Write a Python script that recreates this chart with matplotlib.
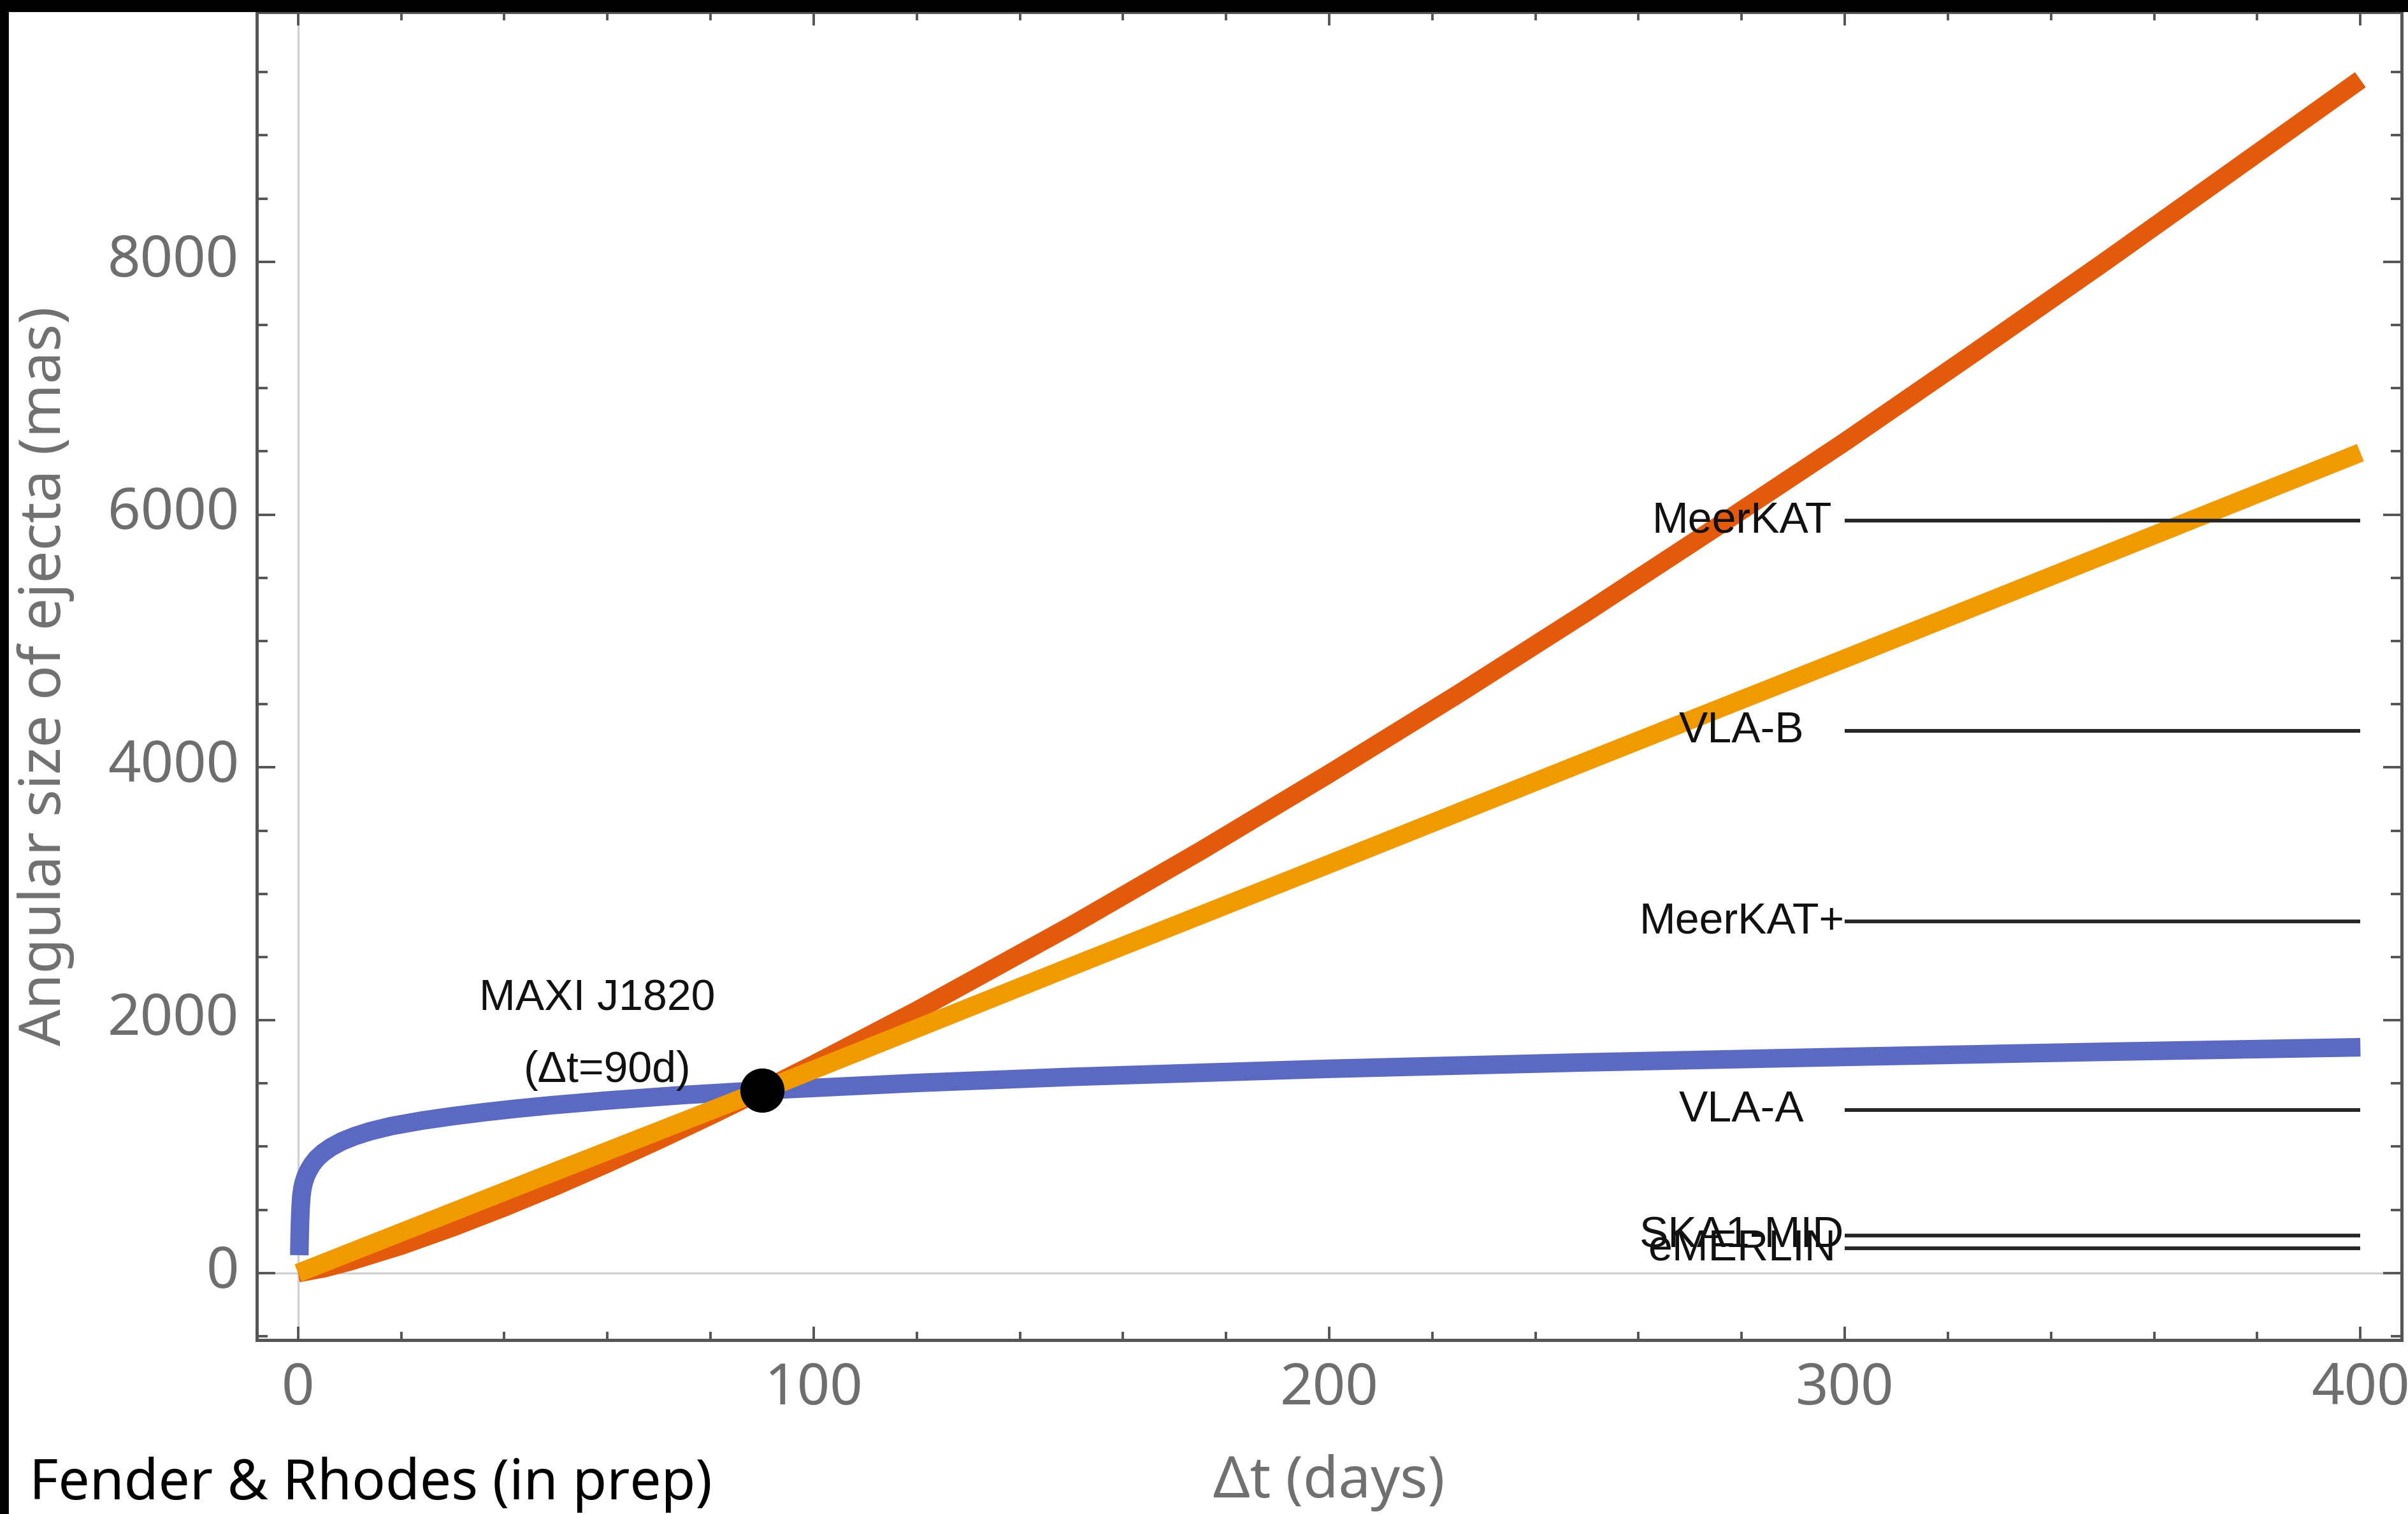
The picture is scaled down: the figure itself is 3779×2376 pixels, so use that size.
import matplotlib
matplotlib.use("Agg")
import matplotlib.pyplot as plt
from matplotlib.patches import Rectangle
from matplotlib.ticker import MultipleLocator
from matplotlib.transforms import ScaledTranslation

# Angular size of the ejecta (mas) against time since ejection (days)
blue_days = [0.25, 0.3, 0.4, 0.5, 0.65, 0.85, 1.1, 1.5, 2.0, 2.7, 3.6, 4.8,
             6.4, 8.5, 11, 14, 18, 24, 30, 36, 42, 49, 60, 75, 90, 120, 150,
             200, 250, 300, 350, 400]
blue_mas = [141, 270, 420, 520, 610, 670, 715, 765, 810, 858, 905, 950,
            996, 1042, 1083, 1122, 1162, 1206, 1241, 1272, 1299, 1327, 1365,
            1409, 1445, 1504, 1552, 1616, 1667, 1710, 1750, 1786]

red_days = [0, 5, 10, 20, 30, 40, 50, 60, 70, 80, 90, 100, 120, 150, 175, 200,
            225, 250, 275, 300, 325, 350, 375, 400]
red_mas = [0, 38, 91, 217, 362, 520, 688, 867, 1053, 1246, 1445, 1650, 2076,
           2749, 3338, 3950, 4580, 5230, 5898, 6575, 7277, 7988, 8713, 9440]

orange_days = [0, 50, 90, 150, 200, 250, 300, 350, 400]
orange_mas = [0, 805, 1445, 2425, 3235, 4050, 4860, 5675, 6490]

# Interferometer resolution limits
instruments = ["MeerKAT", "VLA-B", "MeerKAT+", "VLA-A", "SKA1-MID", "eMERLIN"]
resolution_mas = [5950, 4290, 2780, 1290, 295, 195]
limit_start, limit_end = 300, 400
label_day = 280

# MAXI J1820 observation
maxi_day = 90
maxi_mas = 1445

x_ticks = [0, 100, 200, 300, 400]
y_ticks = [0, 2000, 4000, 6000, 8000]

W, H = 3779, 2376
DPI = 200
fig = plt.figure(figsize=(W / DPI, H / DPI), dpi=DPI)
fig.patch.set_facecolor("white")

ax_l, ax_r, ax_t, ax_b = 403, 3769, 19, 2103
ax = fig.add_axes([ax_l / W, 1 - ax_b / H, (ax_r - ax_l) / W, (ax_b - ax_t) / H])

# black border strips along the top and left edges
fig.add_artist(Rectangle((0, 1 - 17 / H), 1, 17 / H, transform=fig.transFigure,
                         color="black", zorder=10))
fig.add_artist(Rectangle((0, 0), 12 / W, 1, transform=fig.transFigure,
                         color="black", zorder=10))

ax.set_xlim(-8, 408)
ax.set_ylim(-530, 9975)

ax.axhline(0, color="#cfcfcf", lw=1.1, zorder=0.5)
ax.axvline(0, color="#cfcfcf", lw=1.1, zorder=0.5)

lw = 10.5
ax.plot(blue_days, blue_mas, color="#5B69C2", lw=lw, solid_capstyle="butt",
        solid_joinstyle="round", zorder=2)
ax.plot(red_days, red_mas, color="#E35A0C", lw=lw, solid_capstyle="butt",
        solid_joinstyle="round", zorder=2.1)
ax.plot(orange_days, orange_mas, color="#F09A00", lw=lw, solid_capstyle="butt",
        solid_joinstyle="round", zorder=2.2)

label_font = ["Liberation Sans", "DejaVu Sans"]
label_size = 24.5
for name, res in zip(instruments, resolution_mas):
    ax.plot([limit_start, limit_end], [res, res], color="#262626", lw=2.1,
            solid_capstyle="butt", zorder=3)
    ax.text(label_day, res, name, ha="center", va="center", fontsize=label_size,
            family=label_font, color="#111111", zorder=6)

ax.plot([maxi_day], [maxi_mas], "o", color="black", markersize=24, zorder=5)
ax.text(58, 2170, "MAXI J1820", ha="center", va="center", fontsize=label_size,
        family=label_font, color="#111111", zorder=6)
ax.text(60, 1600, "(Δt=90d)", ha="center", va="center", fontsize=label_size,
        family=label_font, color="#111111", zorder=6)

# frame and ticks
frame_col = "#555555"
for sp in ax.spines.values():
    sp.set_color(frame_col)
    sp.set_linewidth(1.8)

ax.set_xticks(x_ticks)
ax.set_yticks(y_ticks)
ax.xaxis.set_minor_locator(MultipleLocator(20))
ax.yaxis.set_minor_locator(MultipleLocator(500))
ax.tick_params(which="both", direction="in", top=True, right=True,
               color=frame_col, width=1.4, labelcolor="#6e6e6e",
               labelsize=32.5)
ax.tick_params(axis="x", which="major", length=7.5, pad=12)
ax.tick_params(axis="x", which="minor", length=4.7)
ax.tick_params(axis="y", which="major", length=10.5, pad=10)
ax.tick_params(axis="y", which="minor", length=6)

tick_font = ["Noto Sans", "DejaVu Sans"]
for lab in ax.get_xticklabels() + ax.get_yticklabels():
    lab.set_family(tick_font)
for lab in ax.get_yticklabels():
    lab.set_transform(lab.get_transform() +
                      ScaledTranslation(0, 4 / 72, fig.dpi_scale_trans))

ax.set_xlabel("Δt (days)", fontsize=32.5, color="#707070", family=tick_font,
              va="baseline")
ax.xaxis.set_label_coords(0.5, (ax_b - 2350) / (ax_b - ax_t))
ax.set_ylabel("Angular size of ejecta (mas)", fontsize=32.5, color="#707070",
              family=tick_font, va="center")
ax.yaxis.set_label_coords((72 - ax_l) / (ax_r - ax_l), 0.5)

fig.text(46 / W, 1 - 2353 / H, "Fender & Rhodes (in prep)", ha="left",
         va="baseline", fontsize=31.5, family=tick_font, color="black")

fig.savefig("out.png", dpi=DPI, facecolor="white")
